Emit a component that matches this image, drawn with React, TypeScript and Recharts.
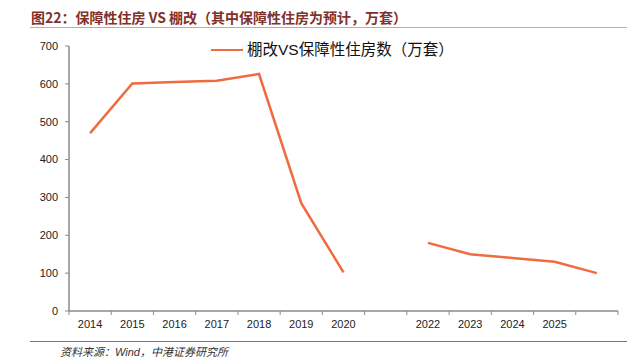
import React from "react";
import { LineChart, Line, XAxis, YAxis } from "recharts";

const years = ["2014", "2015", "2016", "2017", "2018", "2019", "2020", "", "2022", "2023", "2024", "2025", ""];
const values: (number | null)[] = [470, 601, 605, 608, 626, 285, 102, null, 180, 150, 140, 130, 100];
const yTicks = [0, 100, 200, 300, 400, 500, 600, 700];

const title = "图22：保障性住房 VS 棚改（其中保障性住房为预计，万套）";
const seriesName = "棚改VS保障性住房数（万套）";
const source = "资料来源：Wind，中港证券研究所";

// each category sits in the middle of its band on the numeric axis
const data = years.map((y, i) => ({ label: y, pos: i + 0.5, value: values[i] }));
// tick marks at band boundaries, labels at band centres
const xTicks: number[] = [];
for (let i = 0; i <= years.length; i++) {
  xTicks.push(i);
  if (i < years.length) xTicks.push(i + 0.5);
}

const LINE_COLOR = "#EE6C3F";
const AXIS_COLOR = "#8a8a8a";
const FONT = "'Liberation Sans', Arial, 'Noto Sans CJK SC', sans-serif";

function XTick(props: any) {
  const { x, y, payload } = props;
  const v = payload.value as number;
  if (Number.isInteger(v)) {
    return <line x1={x} x2={x} y1={y} y2={y + 4} stroke={AXIS_COLOR} strokeWidth={1} />;
  }
  const label = years[Math.floor(v)];
  return (
    <text x={x} y={y + 17} textAnchor="middle" fontSize={11} fill="#222" fontFamily={FONT}>
      {label}
    </text>
  );
}

export default function App() {
  return (
    <div style={{ position: "absolute", left: 0, top: 0, width: 627, height: 364, background: "#fff", fontFamily: FONT }}>
      <div style={{ position: "absolute", left: 31, top: 9, fontSize: 14, fontWeight: "bold", color: "#82312A", fontFamily: "'Noto Sans CJK SC', sans-serif", lineHeight: "16px", whiteSpace: "nowrap" }}>
        {title}
      </div>
      <div style={{ position: "absolute", left: 30, top: 27, width: 597, height: 1, background: "#D8A298" }} />
      <LineChart width={627} height={364} data={data} margin={{ top: 46, right: 9, bottom: 23, left: 29 }}>
        <XAxis
          dataKey="pos"
          type="number"
          domain={[0, years.length]}
          ticks={xTicks}
          interval={0}
          tick={<XTick />}
          tickSize={0}
          tickMargin={0}
          tickLine={false}
          height={30}
          axisLine={{ stroke: AXIS_COLOR, strokeWidth: 1.5 }}
          allowDataOverflow
        />
        <YAxis
          domain={[0, 700]}
          ticks={yTicks}
          width={40}
          tickSize={4}
          tickMargin={7}
          interval={0}
          axisLine={{ stroke: AXIS_COLOR, strokeWidth: 1.5 }}
          tickLine={{ stroke: AXIS_COLOR }}
          tick={{ fontSize: 11, fill: "#222", fontFamily: FONT }}
        />
        <Line
          type="linear"
          dataKey="value"
          stroke={LINE_COLOR}
          strokeWidth={2.5}
          dot={false}
          activeDot={false}
          connectNulls={false}
          isAnimationActive={false}
        />
      </LineChart>
      <div style={{ position: "absolute", left: 211, top: 41, display: "flex", alignItems: "center", whiteSpace: "nowrap" }}>
        <div style={{ width: 32, height: 2.5, background: LINE_COLOR, marginRight: 4 }} />
        <span style={{ fontSize: 15.5, color: "#111", fontFamily: FONT, lineHeight: "18px" }}>{seriesName}</span>
      </div>
      <div style={{ position: "absolute", left: 30, top: 341, width: 597, height: 1, background: "#B2614F" }} />
      <div style={{ position: "absolute", left: 60, top: 345, fontSize: 11, fontStyle: "italic", color: "#333", fontFamily: FONT, lineHeight: "14px", whiteSpace: "nowrap" }}>
        {source}
      </div>
    </div>
  );
}
